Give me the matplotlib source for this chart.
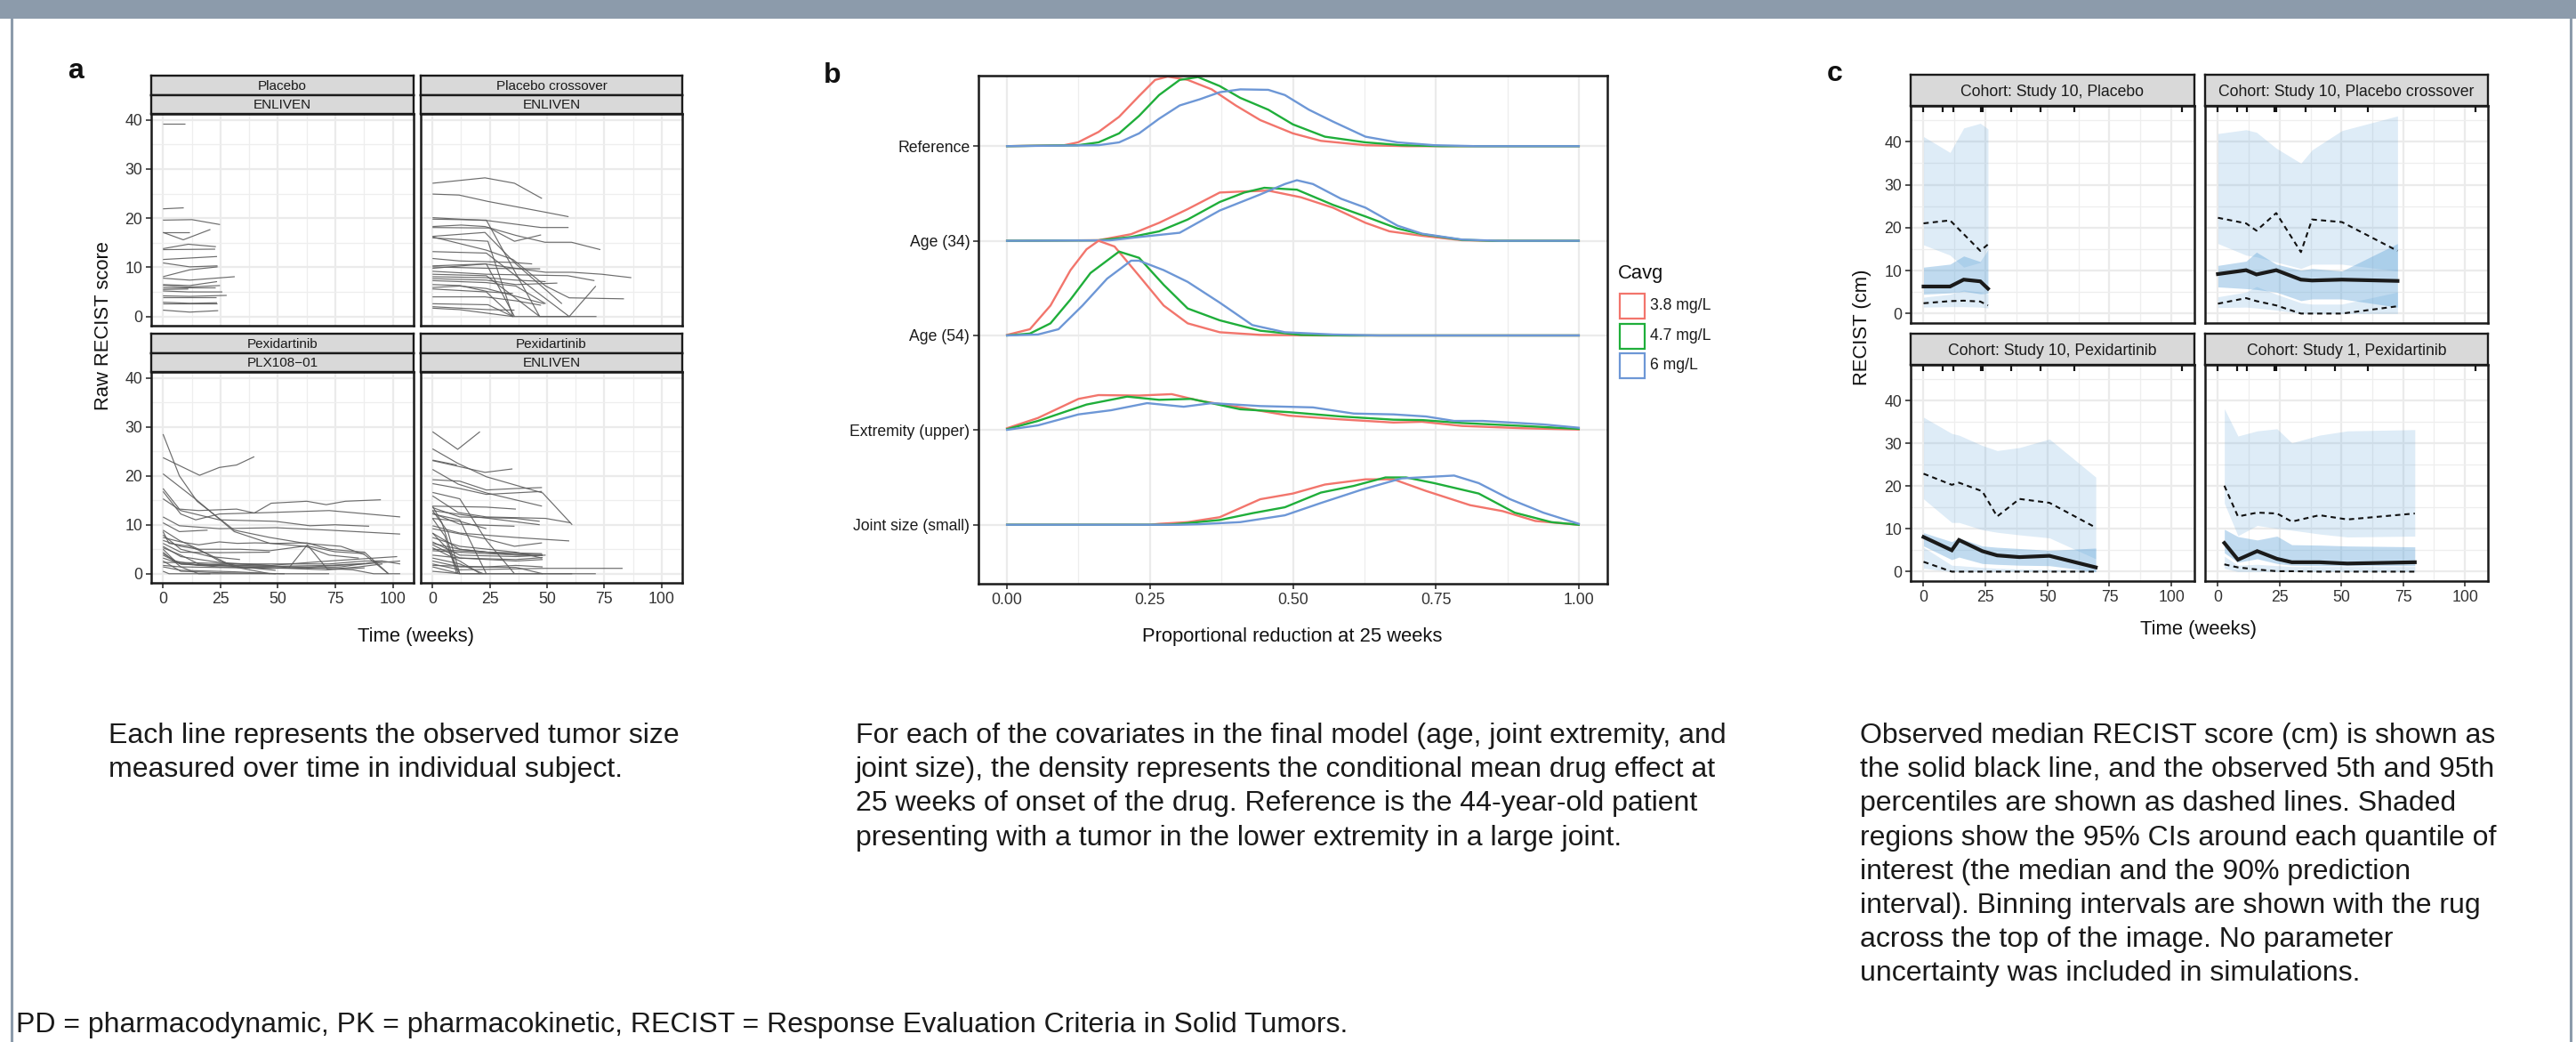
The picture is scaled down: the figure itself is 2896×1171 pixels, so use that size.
import matplotlib.pyplot as plt
from matplotlib.patches import Rectangle
from matplotlib.lines import Line2D

plt.rcParams['font.family'] = ['Liberation Sans', 'DejaVu Sans']

# ---------------- panel a: observed tumor size per subject (t weeks, RECIST) ----------------
placebo_enliven = [
    ([0, 9.4], [39.2, 39.2]),
    ([0, 9], [21.9, 22.1]),
    ([0, 12.6, 24.8], [19.6, 19.7, 18.7]),
    ([0, 11.6], [17.1, 17.1]),
    ([0, 8.8, 20.6], [17.1, 15.6, 17.7]),
    ([0, 11, 23], [13.8, 14.7, 14.2]),
    ([0, 22.7], [13.6, 13.7]),
    ([0, 23.5], [11.6, 12.2]),
    ([0, 11.6, 23.7], [10.9, 10.1, 10.3]),
    ([0, 11.6, 23.7], [8.1, 9.5, 10.1]),
    ([0, 11.6, 31.2], [7.8, 7.4, 8.1]),
    ([0, 11.6, 23.5], [6.5, 6.3, 7.1]),
    ([0, 11, 24.8], [6.3, 6.0, 6.3]),
    ([0, 22.6], [5.9, 5.9]),
    ([0, 11], [5.5, 5.6]),
    ([0, 11, 25.8], [5.2, 5.0, 5.0]),
    ([0, 11.6, 27.7], [4.2, 4.1, 4.3]),
    ([0, 23.2], [3.9, 3.9]),
    ([0, 11.6, 23.5], [2.9, 2.7, 2.8]),
    ([0, 23.5], [2.6, 2.6]),
    ([0, 11.6, 24], [1.3, 0.9, 1.2]),
]

crossover_enliven = [
    ([0, 22.9, 35.8, 47.8], [27.1, 28.2, 27.1, 24.0]),
    ([0, 11.6, 24.2, 49.4, 59.4], [24.9, 24.7, 23.4, 21.2, 20.3]),
    ([0, 24.2, 47.4, 59.4], [20.1, 19.5, 18.1, 18.1]),
    ([0, 23.5, 46.8, 60.0], [19.8, 19.6, 0, 0]),
    ([0, 12.5, 22.9, 36.4, 49.1, 60.7, 73.3], [18.3, 18.6, 18.3, 16.5, 15.1, 15.1, 13.6]),
    ([0, 24.8, 35.8, 47.4], [18.1, 18.0, 15.3, 16.6]),
    ([0, 22.9, 36.4, 56.5], [16.3, 17.1, 10.7, 2.6]),
    ([0, 24.2, 35.1], [16.0, 15.3, 0]),
    ([0, 23.5, 35.1, 49.4, 59.7, 83.6], [16.2, 13.5, 11.6, 6.2, 3.8, 3.6]),
    ([0, 11.9, 35.1, 43.5], [11.8, 11.3, 11.0, 10.7]),
    ([0, 23.5, 35.8], [10.3, 10.7, 0]),
    ([0, 24.8, 47.0], [10.1, 9.8, 9.7]),
    ([0, 22.9, 36.4, 49.4, 61.0, 73.9, 86.8], [9.8, 10.7, 9.8, 9.0, 9.0, 8.6, 7.9]),
    ([0, 23.5, 59.0, 70.7], [9.2, 8.6, 8.3, 7.3]),
    ([0, 23.5, 46.8], [8.6, 8.3, 0]),
    ([0, 23.5, 36.4, 49.4], [8.1, 7.9, 7.4, 7.1]),
    ([0, 23.5, 36.4, 54.5], [7.7, 7.4, 6.5, 6.8]),
    ([0, 23.5, 36.4, 49.4], [7.3, 6.9, 6.2, 2.6]),
    ([0, 11.9, 24.8, 35.1], [6.5, 6.3, 5.0, 4.7]),
    ([0, 11.9, 23.5, 48.8], [5.9, 6.2, 5.7, 2.6]),
    ([0, 23.5, 35.1, 47.4, 59.7, 71.6], [5.6, 5.0, 0, 0, 0, 0]),
    ([0, 22.9, 36.4, 47.4], [4.0, 4.0, 3.2, 2.3]),
    ([0, 24.2, 35.1], [2.6, 2.4, 0]),
    ([0, 24.2, 35.8], [2.0, 1.4, 1.3]),
    ([0, 11.9, 35.1], [1.7, 1.4, 0]),
    ([0, 23.5, 45.5, 59.7, 71.3], [13.2, 12.9, 5.0, 0, 6.2]),
]

pexi_plx108 = [
    ([0, 7.1, 14.8, 31.0, 46.5, 61.9, 77.4, 87.7, 98.1], [28.5, 20.0, 14.8, 8.9, 7.4, 6.2, 5.6, 3.9, 0]),
    ([0, 15.9, 24.5, 32.0, 39.7], [23.7, 20.1, 21.7, 22.2, 23.9]),
    ([0, 14.8, 31.0, 46.5, 61.9, 72.3, 85.2], [20.4, 15.0, 8.6, 6.2, 5.6, 3.8, 3.2]),
    ([0, 7.1, 15.5, 32.0, 39.7, 47.1, 62.6, 71.0, 79.4, 94.8], [17.4, 13.2, 12.9, 13.2, 12.4, 14.4, 14.8, 14.1, 14.8, 15.1]),
    ([0, 7.7, 14.2, 24.5, 46.5, 72.3, 103.2], [16.8, 12.2, 11.0, 12.2, 12.5, 12.9, 11.6]),
    ([0, 7.7, 24.5, 49.0, 63.9, 74.8, 89.7], [15.3, 12.9, 11.0, 10.7, 9.8, 10.0, 9.7]),
    ([0, 7.1, 24.5, 49.0, 72.3, 103.2], [11.6, 9.8, 9.2, 9.4, 8.9, 8.1]),
    ([0, 7.1, 19.4], [10.4, 8.6, 8.9]),
    ([0, 7.1, 15.5, 24.5, 33.5, 49.0], [8.9, 6.8, 5.0, 2.6, 1.4, 0.7]),
    ([0, 2.6, 11.6, 20.6, 31.0, 46.5], [8.6, 6.2, 5.6, 3.8, 1.4, 0]),
    ([0, 7.7, 15.5, 24.5, 32.3, 40.0, 49.0, 62.6, 72.3, 87.7, 98.1], [7.4, 6.5, 5.9, 6.5, 6.2, 6.3, 6.2, 6.3, 5.0, 4.4, 0]),
    ([0, 7.7, 15.5, 33.5, 46.5, 62.6, 74.8, 87.7], [6.8, 5.6, 5.0, 5.0, 4.7, 5.7, 4.5, 4.1]),
    ([0, 7.7, 24.5, 46.5], [6.2, 4.4, 4.3, 4.4]),
    ([0, 7.7, 24.5, 46.5, 54.8, 62.8, 71.6, 85.2, 95.5], [5.6, 3.5, 2.3, 1.7, 1.2, 5.9, 0.9, 1.4, 2.0]),
    ([0, 7.7, 15.5, 33.5, 61.9, 77.4, 95.5, 103.2], [5.3, 3.8, 2.0, 1.4, 1.1, 1.4, 2.6, 2.0]),
    ([0, 5.2, 15.5, 31.0, 46.5, 72.3, 101.9], [5.0, 2.6, 1.7, 2.0, 1.7, 2.6, 3.5]),
    ([0, 7.7, 15.5, 49.0], [4.4, 1.4, 0, 0]),
    ([0, 7.7, 24.5, 54.2, 71.0, 87.7], [3.8, 2.0, 1.4, 1.1, 0.8, 1.2]),
    ([0, 7.7, 24.5, 52.9], [2.6, 0.5, 0.2, 0]),
    ([0, 7.7, 31.0, 49.0, 72.3], [1.4, 0.7, 0.4, 0, 0]),
    ([0, 7.7, 33.5, 72.3, 87.7, 95.5], [2.3, 2.3, 2.0, 2.0, 2.6, 2.6]),
    ([0, 7.7, 20.6, 46.5, 72.3, 87.7], [4.1, 2.0, 1.7, 1.5, 1.7, 2.1]),
    ([0, 2.6, 20.6], [0.5, 0, 0]),
    ([0, 7.7, 33.5, 59.4, 82.6, 91.6, 103.2], [3.2, 2.0, 1.7, 1.4, 0.8, 0, 0]),
    ([0, 7.7, 46.5, 64.5, 87.7, 103.2], [1.7, 1.4, 1.1, 1.4, 2.0, 2.6]),
    ([0, 7.7, 20.6, 33.5], [7.9, 5.0, 3.5, 2.9]),
]

pexi_enliven = [
    ([0, 11.0, 20.7], [29.0, 25.4, 29.0]),
    ([0, 11.2, 23.5, 48.1, 61.0], [25.5, 22.5, 19.8, 16.5, 10.0]),
    ([0, 10.6], [23.2, 22.2]),
    ([0, 22.9, 34.9], [23.1, 20.7, 21.4]),
    ([0, 11.2, 23.5, 47.8], [21.3, 18.3, 16.5, 13.8]),
    ([0, 11.9, 23.5, 36.4, 47.8], [19.2, 18.9, 17.1, 17.4, 17.6]),
    ([0, 11.9, 23.5, 47.8], [18.4, 17.4, 16.2, 16.8]),
    ([0, 11.9, 23.5, 35.8], [16.6, 15.3, 6.8, 0]),
    ([0, 11.2, 23.5, 49.4, 60.3], [15.9, 12.5, 11.6, 11.3, 10.4]),
    ([0, 23.5, 36.4], [13.8, 13.6, 13.2]),
    ([0, 11.9, 36.4, 46.8], [13.5, 11.6, 11.3, 10.7]),
    ([0, 19.6, 46.8], [12.9, 11.6, 10.0]),
    ([0, 11.9, 35.8], [12.4, 10.1, 9.7]),
    ([0, 11.9, 23.5], [12.2, 11.0, 0]),
    ([0, 11.9, 23.5], [11.3, 10.7, 9.2]),
    ([0, 11.9, 36.4, 59.7], [9.8, 8.3, 7.4, 6.7]),
    ([0, 23.5, 35.8, 47.8], [9.2, 7.1, 5.6, 6.3]),
    ([0, 11.9, 23.5, 47.8], [8.3, 5.0, 4.4, 4.1]),
    ([0, 11.9, 36.4, 47.8], [7.4, 5.6, 4.4, 3.2]),
    ([0, 11.9, 36.4, 49.4], [6.5, 3.8, 3.5, 3.8]),
    ([0, 11.9, 36.4, 48.1], [5.9, 3.2, 2.9, 3.3]),
    ([0, 11.9, 20.9], [5.3, 2.6, 0]),
    ([0, 23.5, 48.1], [5.0, 4.4, 3.9]),
    ([0, 11.9, 36.4, 48.1], [3.8, 3.2, 2.6, 2.9]),
    ([0, 11.9, 22.2], [3.2, 2.0, 0]),
    ([0, 11.9, 36.4, 48.1], [2.6, 1.4, 1.3, 0]),
    ([0, 11.9, 49.4, 83.0], [2.0, 0.8, 1.1, 1.1]),
    ([0, 11.9, 49.4, 71.3], [1.4, 0, 0, 0]),
    ([0, 6.7, 11.9], [12.9, 8.6, 0]),
    ([0, 4.1, 11.2], [13.8, 10.4, 0]),
    ([0, 5.4, 10.6], [11.3, 7.7, 0]),
    ([0, 6.7, 11.9], [8.3, 5.0, 0]),
    ([0, 23.5, 36.4, 48.1], [1.7, 1.4, 1.7, 1.4]),
    ([0, 11.9, 36.4, 48.1], [6.2, 5.0, 3.8, 3.7]),
    ([0, 23.5, 45.5], [4.7, 4.1, 3.7]),
    ([0, 11.9, 36.4, 61.0], [0.5, 0, 0, 0]),
]

# ---------------- panel b: density of proportional reduction at 25 weeks ----------------
b_rows = ['Reference', 'Age (34)', 'Age (54)', 'Extremity (upper)', 'Joint size (small)']
cavg_levels = ['3.8 mg/L', '4.7 mg/L', '6 mg/L']
cavg_colors = ['#F2756C', '#1FAE3A', '#6D97D6']

dens_reference = {
    '3.8 mg/L': ([0, 0.10, 0.124, 0.16, 0.196, 0.231, 0.259, 0.281, 0.316, 0.358, 0.40, 0.443, 0.50, 0.549, 0.627, 0.70, 1.0],
                 [0, 0.01, 0.04, 0.15, 0.31, 0.53, 0.70, 0.735, 0.70, 0.60, 0.43, 0.275, 0.135, 0.056, 0.01, 0, 0]),
    '4.7 mg/L': ([0, 0.124, 0.16, 0.196, 0.231, 0.266, 0.302, 0.334, 0.372, 0.408, 0.457, 0.50, 0.556, 0.627, 0.69, 0.76, 1.0],
                 [0, 0.01, 0.04, 0.135, 0.32, 0.54, 0.70, 0.73, 0.635, 0.51, 0.385, 0.23, 0.10, 0.04, 0.01, 0, 0]),
    '6 mg/L': ([0, 0.16, 0.196, 0.231, 0.266, 0.302, 0.337, 0.372, 0.408, 0.457, 0.486, 0.528, 0.570, 0.627, 0.683, 0.747, 0.82, 1.0],
               [0, 0.01, 0.04, 0.135, 0.29, 0.43, 0.495, 0.57, 0.60, 0.595, 0.54, 0.385, 0.26, 0.10, 0.04, 0.01, 0, 0]),
}
dens_age34 = {
    '3.8 mg/L': ([0, 0.16, 0.217, 0.266, 0.316, 0.372, 0.408, 0.457, 0.514, 0.570, 0.627, 0.669, 0.726, 0.796, 0.85, 1.0],
                 [0, 0.006, 0.07, 0.19, 0.335, 0.51, 0.52, 0.53, 0.46, 0.35, 0.19, 0.10, 0.053, 0.006, 0, 0]),
    '4.7 mg/L': ([0, 0.16, 0.217, 0.266, 0.316, 0.372, 0.415, 0.45, 0.507, 0.570, 0.627, 0.683, 0.726, 0.796, 0.85, 1.0],
                 [0, 0.005, 0.04, 0.10, 0.225, 0.41, 0.51, 0.56, 0.54, 0.38, 0.257, 0.13, 0.07, 0.01, 0, 0]),
    '6 mg/L': ([0, 0.18, 0.231, 0.302, 0.372, 0.443, 0.486, 0.507, 0.535, 0.584, 0.627, 0.683, 0.726, 0.796, 0.86, 1.0],
               [0, 0.005, 0.04, 0.085, 0.32, 0.49, 0.60, 0.64, 0.60, 0.445, 0.35, 0.16, 0.075, 0.013, 0, 0]),
}
dens_age54 = {
    '3.8 mg/L': ([0, 0.04, 0.076, 0.111, 0.139, 0.16, 0.188, 0.231, 0.274, 0.316, 0.372, 0.443, 0.55, 1.0],
                 [0.006, 0.066, 0.316, 0.69, 0.91, 1.0, 0.94, 0.63, 0.316, 0.128, 0.034, 0.006, 0, 0]),
    '4.7 mg/L': ([0, 0.04, 0.076, 0.111, 0.146, 0.196, 0.231, 0.274, 0.316, 0.372, 0.443, 0.514, 0.6, 1.0],
                 [0, 0.02, 0.128, 0.38, 0.66, 0.886, 0.82, 0.535, 0.285, 0.16, 0.05, 0.006, 0, 0]),
    '6 mg/L': ([0, 0.054, 0.09, 0.132, 0.175, 0.217, 0.231, 0.274, 0.316, 0.372, 0.429, 0.486, 0.57, 0.65, 1.0],
               [0, 0.01, 0.066, 0.316, 0.60, 0.79, 0.79, 0.69, 0.566, 0.347, 0.11, 0.034, 0.01, 0, 0]),
}
dens_extremity = {
    '3.8 mg/L': ([0, 0.054, 0.125, 0.16, 0.231, 0.288, 0.337, 0.408, 0.493, 0.584, 0.676, 0.726, 0.796, 0.902, 1.0],
                 [0.02, 0.128, 0.33, 0.37, 0.365, 0.38, 0.31, 0.24, 0.153, 0.113, 0.08, 0.088, 0.044, 0.02, 0.006]),
    '4.7 mg/L': ([0, 0.054, 0.139, 0.21, 0.266, 0.322, 0.408, 0.493, 0.584, 0.676, 0.726, 0.796, 0.902, 1.0],
                 [0.01, 0.097, 0.27, 0.354, 0.32, 0.33, 0.22, 0.19, 0.144, 0.11, 0.106, 0.075, 0.044, 0.013]),
    '6 mg/L': ([0, 0.054, 0.125, 0.182, 0.245, 0.309, 0.358, 0.443, 0.535, 0.606, 0.676, 0.733, 0.782, 0.832, 0.938, 1.0],
               [0.003, 0.05, 0.166, 0.21, 0.285, 0.247, 0.285, 0.254, 0.24, 0.175, 0.166, 0.144, 0.097, 0.097, 0.06, 0.025]),
}
dens_joint = {
    '3.8 mg/L': ([0, 0.25, 0.266, 0.316, 0.372, 0.443, 0.50, 0.556, 0.627, 0.676, 0.733, 0.81, 0.867, 0.924, 1.0],
                 [0, 0, 0.01, 0.028, 0.08, 0.27, 0.33, 0.425, 0.48, 0.48, 0.357, 0.207, 0.144, 0.04, 0]),
    '4.7 mg/L': ([0, 0.28, 0.302, 0.372, 0.429, 0.486, 0.549, 0.606, 0.662, 0.698, 0.747, 0.825, 0.888, 0.952, 1.0],
                 [0, 0, 0.01, 0.05, 0.122, 0.185, 0.34, 0.41, 0.5, 0.5, 0.44, 0.33, 0.128, 0.028, 0]),
    '6 mg/L': ([0, 0.30, 0.337, 0.408, 0.486, 0.549, 0.62, 0.69, 0.782, 0.825, 0.88, 0.938, 1.0],
               [0, 0, 0.006, 0.028, 0.10, 0.23, 0.37, 0.49, 0.52, 0.44, 0.27, 0.128, 0.01]),
}

# ---------------- panel c: VPC summaries per cohort ----------------
rug_weeks = [0, 7.7, 11.9, 23.0, 23.7, 35.4, 47.3, 60.7, 104.1]

s10_placebo = dict(
    t=[0, 10.7, 16.2, 22.9, 26.0],
    med=[6.3, 6.3, 7.9, 7.5, 5.8],
    p95=[21.0, 21.7, 18.5, 14.6, 16.1],
    p05=[2.4, 2.9, 3.0, 2.8, 1.9],
    hi_up=[41.2, 37.5, 43.2, 44.3, 43.0], hi_lo=[16.0, 13.6, 10.8, 11.9, 15.3],
    md_up=[10.8, 11.5, 13.4, 12.1, 15.0], md_lo=[4.5, 4.8, 5.2, 4.6, 4.7],
    lo_up=[3.8, 4.5, 5.5, 5.0, 4.5], lo_lo=[1.5, 1.6, 1.6, 1.5, 1.3],
)
s10_crossover = dict(
    t=[0, 11.4, 15.6, 23.6, 33.6, 38.1, 50.2, 72.7],
    med=[9.2, 10.1, 9.1, 10.1, 7.9, 7.7, 7.9, 7.6],
    p95=[22.3, 21.0, 19.3, 23.4, 14.3, 21.9, 21.3, 14.6],
    p05=[2.3, 3.6, 2.9, 1.9, 0.0, 0.0, 0.0, 1.7],
    hi_up=[41.9, 42.8, 42.2, 38.5, 35.0, 38.1, 42.6, 46.0], hi_lo=[16.3, 13.6, 13.2, 12.0, 10.5, 11.5, 11.5, 9.9],
    md_up=[11.2, 12.2, 14.3, 11.5, 10.1, 10.5, 9.9, 16.3], md_lo=[6.2, 5.8, 5.6, 5.0, 3.0, 3.4, 3.4, 1.5],
    lo_up=[3.9, 5.0, 6.3, 4.5, 2.5, 2.2, 2.2, 5.0], lo_lo=[1.4, 1.5, 1.3, 0.8, 0.0, 0.0, 0.0, 0.0],
)
s10_pexi = dict(
    t=[0, 11.4, 14.3, 23.7, 29.7, 38.7, 50.8, 69.5],
    med=[8.1, 5.0, 7.4, 4.8, 3.8, 3.4, 3.7, 1.0],
    p95=[22.9, 20.3, 20.8, 18.8, 12.9, 17.0, 16.1, 10.3],
    p05=[2.3, 0, 0, 0, 0, 0, 0, 0],
    hi_up=[36.1, 32.3, 31.9, 29.5, 28.3, 29.0, 31.0, 22.1], hi_lo=[17.0, 11.5, 11.5, 9.8, 9.2, 8.6, 7.9, 3.0],
    md_up=[9.1, 7.0, 7.9, 6.0, 5.7, 5.4, 5.0, 5.5], md_lo=[6.0, 2.8, 3.4, 1.9, 1.7, 1.5, 1.4, 0.0],
    lo_up=[5.7, 1.5, 1.4, 1.0, 0.8, 0.6, 0.5, 0.5], lo_lo=[0.8, 0, 0, 0, 0, 0, 0, 0],
)
s1_pexi = dict(
    t=[2.6, 8.1, 15.9, 23.9, 29.9, 41.1, 52.4, 79.7],
    med=[6.7, 2.8, 4.8, 3.0, 2.2, 2.2, 1.9, 2.2],
    p95=[20.1, 12.9, 13.8, 13.6, 11.7, 13.2, 12.2, 13.6],
    p05=[1.7, 1.0, 0.5, 0.1, 0.1, 0, 0, 0],
    hi_up=[38.1, 31.7, 32.9, 33.4, 30.1, 31.9, 32.9, 33.2], hi_lo=[16.0, 8.4, 10.8, 10.1, 9.7, 8.8, 8.1, 8.3],
    md_up=[9.9, 8.2, 7.4, 8.3, 6.3, 6.2, 6.0, 5.8], md_lo=[4.4, 2.2, 3.0, 1.9, 1.5, 1.4, 1.4, 1.4],
    lo_up=[3.6, 1.5, 1.7, 1.4, 1.2, 1.2, 1.2, 1.2], lo_lo=[0.8, 0, 0, 0, 0, 0, 0, 0],
)

caption_a = ["Each line represents the observed tumor size",
             "measured over time in individual subject."]
caption_b = ["For each of the covariates in the final model (age, joint extremity, and",
             "joint size), the density represents the conditional mean drug effect at",
             "25 weeks of onset of the drug. Reference is the 44-year-old patient",
             "presenting with a tumor in the lower extremity in a large joint."]
caption_c = ["Observed median RECIST score (cm) is shown as",
             "the solid black line, and the observed 5th and 95th",
             "percentiles are shown as dashed lines. Shaded",
             "regions show the 95% CIs around each quantile of",
             "interest (the median and the 90% prediction",
             "interval). Binning intervals are shown with the rug",
             "across the top of the image. No parameter",
             "uncertainty was included in simulations."]
footer = "PD = pharmacodynamic, PK = pharmacokinetic, RECIST = Response Evaluation Criteria in Solid Tumors."

# ---------------- layout helpers (pixel boxes, origin top-left) ----------------
W, H = 2896, 1171
fig = plt.figure(figsize=(W / 100, H / 100), dpi=100)
fig.patch.set_facecolor('white')

TICK = 12.7
TITLE = 15.8


def add_ax(x0, y0, x1, y1):
    return fig.add_axes([x0 / W, 1 - y1 / H, (x1 - x0) / W, (y1 - y0) / H])


def strip(x0, y0, x1, y1, label, size):
    sa = add_ax(x0, y0, x1, y1)
    sa.set_facecolor('#D9D9D9')
    sa.set_xticks([])
    sa.set_yticks([])
    for s in sa.spines.values():
        s.set_linewidth(1.7)
        s.set_color('#1a1a1a')
    sa.text(0.5, 0.45, label, ha='center', va='center', fontsize=size,
            color='#1a1a1a', transform=sa.transAxes)


def gg_style(ax, xlim, ylim, xmaj, xmin, ymaj, ymin, show_x, show_y):
    ax.set_xlim(*xlim)
    ax.set_ylim(*ylim)
    ax.set_xticks(xmaj)
    ax.set_xticks(xmin, minor=True)
    ax.set_yticks(ymaj)
    ax.set_yticks(ymin, minor=True)
    ax.grid(True, which='major', color='#EBEBEB', lw=1.6)
    ax.grid(True, which='minor', color='#EEEEEE', lw=0.9)
    ax.set_axisbelow(True)
    for s in ax.spines.values():
        s.set_linewidth(1.8)
        s.set_color('#1a1a1a')
    ax.tick_params(which='minor', length=0)
    ax.tick_params(which='major', length=4, width=1.2, color='#333333',
                   labelsize=TICK, labelcolor='#333333', pad=3)
    if not show_x:
        ax.tick_params(axis='x', which='major', length=0, labelbottom=False)
    if not show_y:
        ax.tick_params(axis='y', which='major', length=0, labelleft=False)


def ftext(x, y, s, **kw):
    fig.text(x / W, 1 - y / H, s, **kw)


# frame
fig.add_artist(Rectangle((0, 1 - 21 / H), 1, 21 / H, transform=fig.transFigure,
                         color='#8C9BAB', lw=0))
fig.add_artist(Line2D([13 / W, 13 / W], [0, 1 - 21 / H], transform=fig.transFigure,
                      color='#8C9BAB', lw=2.2))
fig.add_artist(Line2D([2890 / W, 2890 / W], [0, 1 - 21 / H], transform=fig.transFigure,
                      color='#8C9BAB', lw=2.2))

# ---------------- panel a ----------------
a_facets = [
    (placebo_enliven, ('Placebo', 'ENLIVEN'), 170, 465, 85, 128, 366, False, True),
    (crossover_enliven, ('Placebo crossover', 'ENLIVEN'), 473, 767, 85, 128, 366, False, False),
    (pexi_plx108, ('Pexidartinib', 'PLX108\u221201'), 170, 465, 375, 418, 655, True, True),
    (pexi_enliven, ('Pexidartinib', 'ENLIVEN'), 473, 767, 375, 418, 655, True, False),
]
for subjects, labels, x0, x1, s0, p0, p1, show_x, show_y in a_facets:
    ax = add_ax(x0, p0, x1, p1)
    for t, y in subjects:
        ax.plot(t, y, color='#5c5c5c', lw=0.85, alpha=0.9, solid_capstyle='butt')
    gg_style(ax, (-5.15, 109.05), (-1.86, 41.2), [0, 25, 50, 75, 100],
             [12.5, 37.5, 62.5, 87.5], [0, 10, 20, 30, 40], [5, 15, 25, 35], show_x, show_y)
    mid = (s0 + p0) / 2
    strip(x0, s0, x1, mid, labels[0], 11)
    strip(x0, mid, x1, p0, labels[1], 11)

ftext(85, 80, 'a', fontsize=23, fontweight='bold', ha='center', va='center', color='#111111')
ftext(116, 366, 'Raw RECIST score', fontsize=TITLE, rotation=90, ha='center', va='center', color='#111111')
ftext(468, 716, 'Time (weeks)', fontsize=TITLE, ha='center', va='center', color='#111111')

# ---------------- panel b ----------------
axb = add_ax(1100, 85, 1807, 656)
b_data = [dens_reference, dens_age34, dens_age54, dens_extremity, dens_joint]
n_rows = len(b_rows)
for i, dens in enumerate(b_data):
    base = n_rows - i
    for level, color in zip(cavg_levels, cavg_colors):
        x, y = dens[level]
        axb.plot(x, [base + v for v in y], color=color, lw=1.7, solid_joinstyle='round')
gg_style(axb, (-0.05, 1.05), (0.377, 5.745), [0, 0.25, 0.5, 0.75, 1.0],
         [0.125, 0.375, 0.625, 0.875], list(range(1, n_rows + 1)), [], True, True)
axb.set_xticklabels(['0.00', '0.25', '0.50', '0.75', '1.00'])
axb.set_yticklabels(b_rows[::-1])
axb.tick_params(axis='y', labelcolor='#1a1a1a')

ftext(936, 85, 'b', fontsize=23, fontweight='bold', ha='center', va='center', color='#111111')
ftext(1453, 716, 'Proportional reduction at 25 weeks', fontsize=TITLE, ha='center', va='center',
      color='#111111')

# legend
ftext(1819, 308, 'Cavg', fontsize=TITLE, ha='left', va='center', color='#111111')
for k, (level, color) in enumerate(zip(cavg_levels, cavg_colors)):
    ky = 330 + 33.5 * k
    fig.add_artist(Rectangle((1821 / W, 1 - (ky + 28) / H), 28 / W, 28 / H,
                             transform=fig.transFigure, facecolor='white',
                             edgecolor=color, lw=1.6))
    ftext(1855, ky + 14, level, fontsize=TICK, ha='left', va='center', color='#1a1a1a')

# ---------------- panel c ----------------
c_facets = [
    (s10_placebo, 'Cohort: Study 10, Placebo', 2148, 2467, 84, 119, 363, False, True),
    (s10_crossover, 'Cohort: Study 10, Placebo crossover', 2479, 2797, 84, 119, 363, False, False),
    (s10_pexi, 'Cohort: Study 10, Pexidartinib', 2148, 2467, 375, 410, 653, True, True),
    (s1_pexi, 'Cohort: Study 1, Pexidartinib', 2479, 2797, 375, 410, 653, True, False),
]
band_color = '#5AA0D7'
for d, label, x0, x1, s0, p0, p1, show_x, show_y in c_facets:
    ax = add_ax(x0, p0, x1, p1)
    t = d['t']
    ax.fill_between(t, d['hi_lo'], d['hi_up'], color=band_color, alpha=0.2, lw=0)
    ax.fill_between(t, d['lo_lo'], d['lo_up'], color=band_color, alpha=0.2, lw=0)
    ax.fill_between(t, d['md_lo'], d['md_up'], color=band_color, alpha=0.38, lw=0)
    ax.plot(t, d['p95'], color='#111111', lw=1.5, ls=(0, (2.8, 2.2)))
    ax.plot(t, d['p05'], color='#111111', lw=1.5, ls=(0, (2.8, 2.2)))
    ax.plot(t, d['med'], color='#1a1a1a', lw=3.0, solid_joinstyle='miter')
    ax.vlines(rug_weeks, 0.97, 1.0, transform=ax.get_xaxis_transform(), color='#111111', lw=1.6)
    gg_style(ax, (-5.2, 109.3), (-2.2, 48.35), [0, 25, 50, 75, 100],
             [12.5, 37.5, 62.5, 87.5], [0, 10, 20, 30, 40], [5, 15, 25, 35, 45], show_x, show_y)
    strip(x0, s0, x1, p0, label, TICK)

ftext(2063, 83, 'c', fontsize=23, fontweight='bold', ha='center', va='center', color='#111111')
ftext(2094, 368, 'RECIST (cm)', fontsize=TITLE, rotation=90, ha='center', va='center', color='#111111')
ftext(2472, 708, 'Time (weeks)', fontsize=TITLE, ha='center', va='center', color='#111111')

# ---------------- captions ----------------
for i, line in enumerate(caption_a):
    ftext(122, 827 + 38.2 * i, line, fontsize=23, ha='left', va='center', color='#1a1a1a')
for i, line in enumerate(caption_b):
    ftext(962, 827 + 38.2 * i, line, fontsize=23, ha='left', va='center', color='#1a1a1a')
for i, line in enumerate(caption_c):
    ftext(2091, 827 + 38.2 * i, line, fontsize=23, ha='left', va='center', color='#1a1a1a')
ftext(18, 1152, footer, fontsize=23, ha='left', va='center', color='#1a1a1a')

fig.savefig('out.png', dpi=100)
